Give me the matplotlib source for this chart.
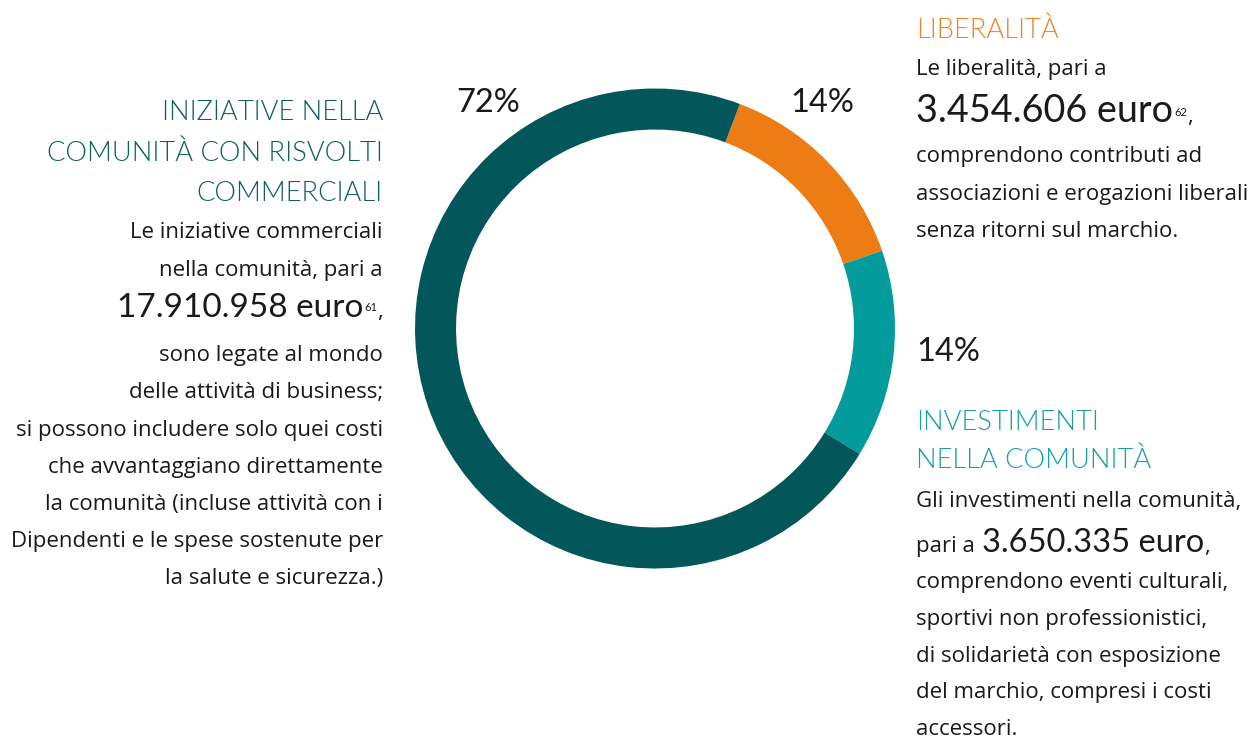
import matplotlib
matplotlib.use("Agg")
import matplotlib.pyplot as plt

# ---- data -------------------------------------------------------------
shares = [14, 14, 72]                       # ring shares (%), clockwise from the orange wedge
share_labels = ["14%", "14%", "72%"]
ring_colors = ["#EE7C14", "#049B9D", "#03565A"]

amounts = ["3.454.606", "3.650.335", "17.910.958"]
notes = ["62", "", "61"]

lib_title = ["LIBERALITÀ"]
inv_title = ["INVESTIMENTI", "NELLA COMUNITÀ"]
com_title = ["INIZIATIVE NELLA", "COMUNITÀ CON RISVOLTI", "COMMERCIALI"]

lib_body_pre = ["Le liberalità, pari a"]
lib_body_post = ["comprendono contributi ad",
                 "associazioni e erogazioni liberali",
                 "senza ritorni sul marchio."]
inv_body_pre = ["Gli investimenti nella comunità,"]
inv_lead = "pari a"
inv_body_post = ["comprendono eventi culturali,",
                 "sportivi non professionistici,",
                 "di solidarietà con esposizione",
                 "del marchio, compresi i costi",
                 "accessori."]
com_body_pre = ["Le iniziative commerciali",
                "nella comunità, pari a"]
com_body_post = ["sono legate al mondo",
                 "delle attività di business;",
                 "si possono includere solo quei costi",
                 "che avvantaggiano direttamente",
                 "la comunità (incluse attività con i",
                 "Dipendenti e le spese sostenute per",
                 "la salute e sicurezza.)"]

# ---- styles -----------------------------------------------------------
W, H, DPI = 1250, 744, 100
INK = "#1A1A1A"
HEAD = dict(family="Lato", weight=300, size=19.6)
BODY = dict(family="Open Sans", size=16, color=INK)
NOTE = dict(family="Lato", size=8, color=INK)
PCT = dict(family="Lato", size=23.5, color=INK)


def big(size):
    return dict(family="Lato", size=size, color=INK)


fig = plt.figure(figsize=(W / DPI, H / DPI), dpi=DPI)
fig.patch.set_facecolor("white")
renderer = fig.canvas.get_renderer()


def fpos(x, y):
    """pixel position (from top-left) -> figure fraction"""
    return x / W, 1 - y / H


def put(x, y, s, ha="left", **kw):
    return fig.text(*fpos(x, y), s, ha=ha, va="baseline", **kw)


def put_runs(parts, x, y, ha="left"):
    """draw a line made of several differently styled pieces"""
    arts = []
    for s, kw, rise, gap in parts:
        t = fig.text(0, 0, s, ha="left", va="baseline", **kw)
        w = t.get_window_extent(renderer).width
        arts.append((t, w, rise, gap))
    total = sum(w + g for _, w, _, g in arts)
    x0 = x - total if ha == "right" else x
    for t, w, rise, gap in arts:
        t.set_position(fpos(x0, y - rise))
        x0 += w + gap


# ---- ring -------------------------------------------------------------
cx, cy, R = 655, 328.5, 240
ax = fig.add_axes([(cx - R) / W, (H - cy - R) / H, 2 * R / W, 2 * R / H])
ax.pie(shares, colors=ring_colors, startangle=69.3, counterclock=False,
       radius=1, wedgeprops=dict(width=0.171, linewidth=0))
ax.set_xlim(-1, 1)
ax.set_ylim(-1, 1)
ax.set_aspect("equal")
ax.axis("off")

# percentage labels
put(456, 112, share_labels[2], **PCT)
put(790, 112, share_labels[0], **PCT)
put(916, 361, share_labels[1], **PCT)

# ---- left block: community initiatives --------------------------------
XL = 383
for s, yb in zip(com_title, [120, 161, 201]):
    put(XL, yb, s, ha="right", color="#0E5E5B", **HEAD)
for s, yb in zip(com_body_pre, [238, 276]):
    put(XL, yb, s, ha="right", **BODY)
put_runs([(amounts[2] + " euro", big(24), 0, 1),
          (notes[2], NOTE, 6, 0),
          (",", BODY, 0, 0)], XL, 317, ha="right")
for s, yb in zip(com_body_post, [361, 398, 436, 473, 510, 547, 584]):
    put(XL, yb, s, ha="right", **BODY)

# ---- right top block: donations --------------------------------------
XR = 916
put(XR, 38, lib_title[0], color="#EE8222", **HEAD)
put(XR, 75, lib_body_pre[0], **BODY)
put_runs([(amounts[0] + " euro", big(27.2), 0, 1),
          (notes[0], NOTE, 6, 0),
          (",", BODY, 0, 0)], XR, 122)
for s, yb in zip(lib_body_post, [162, 200, 237]):
    put(XR, yb, s, **BODY)

# ---- right bottom block: community investments -----------------------
for s, yb in zip(inv_title, [430, 468]):
    put(XR, yb, s, color="#16A09F", **HEAD)
put(XR, 507, inv_body_pre[0], **BODY)
put_runs([(inv_lead, BODY, 0, 7),
          (amounts[1] + " euro", big(23.5), 0, 0),
          (",", BODY, 0, 0)], XR, 552)
for s, yb in zip(inv_body_post, [588, 625, 662, 698, 735]):
    put(XR, yb, s, **BODY)

fig.savefig("out.png", dpi=DPI, facecolor="white")
